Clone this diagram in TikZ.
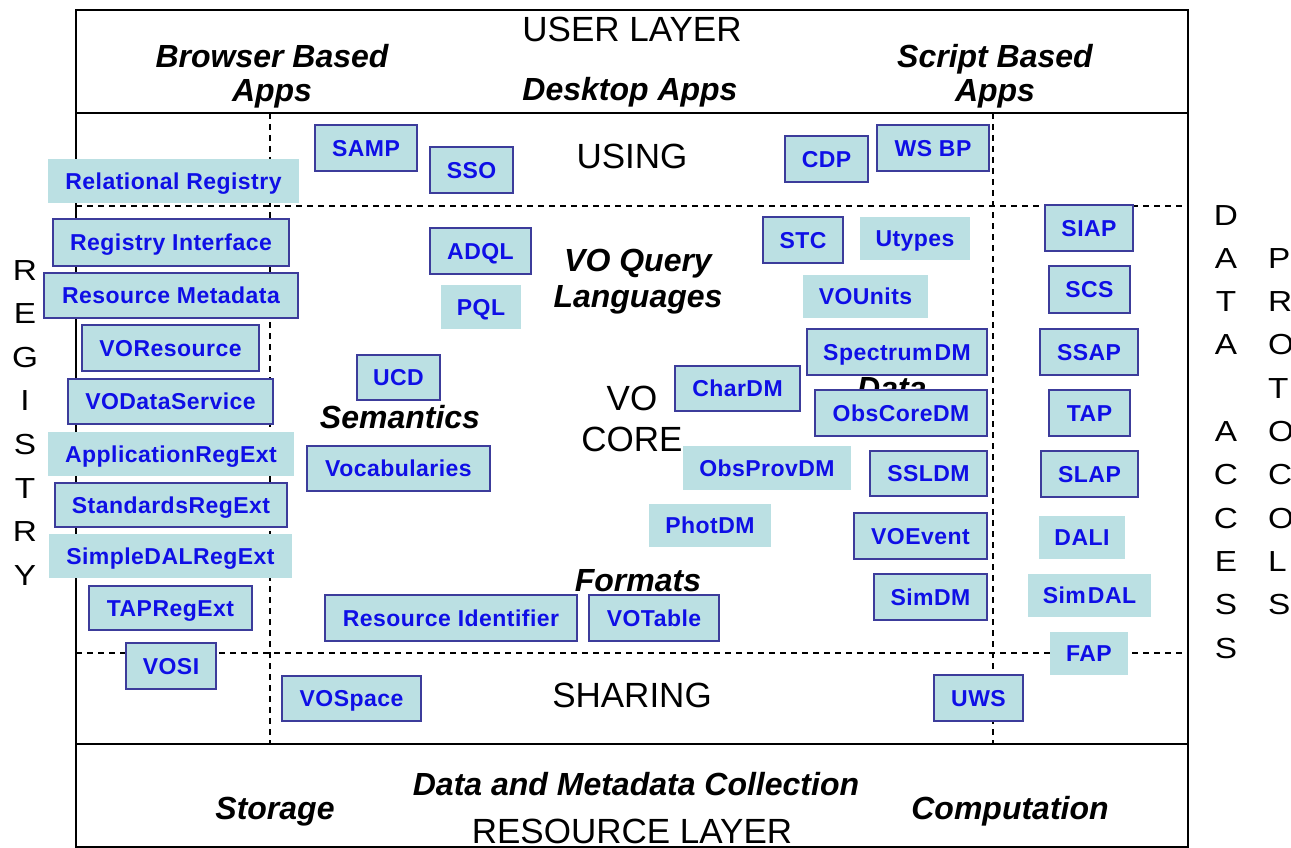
\documentclass[tikz,border=0pt]{standalone}
\usepackage{fontspec}
\setmainfont{Liberation Sans}
\newfontfamily\boxfam[LetterSpace=2]{Liberation Sans}
\definecolor{boxfill}{RGB}{187,224,227}
\definecolor{boxline}{RGB}{60,60,155}
\definecolor{boxtext}{RGB}{15,15,230}
\tikzset{
  vob/.style={fill=boxfill, text=boxtext, font=\boxfam\fontsize{23}{26}\selectfont\bfseries, inner sep=0pt, text height=18pt, text depth=1.5pt},
  vobb/.style={vob, draw=boxline, line width=2pt},
  frameline/.style={line width=2pt, black},
  dashline/.style={line width=1.8pt, black, dash pattern=on 6pt off 5pt},
  titletext/.style={font=\fontsize{32}{34}\selectfont\bfseries\itshape, anchor=base},
  layertext/.style={font=\fontsize{35}{40}\selectfont, anchor=base},
  sideletter/.style={font=\fontsize{29}{32}\selectfont, anchor=base, inner sep=0pt},
}
\newcommand\wideletter[1]{\scalebox{1.15}[1]{#1}}
\begin{document}
\begin{tikzpicture}[x=1pt,y=-1pt]
\useasboundingbox (0,0) rectangle (1291,848);
\clip (0,0) rectangle (1291,848);
% frame
\coordinate (ftl) at (76,10);
\coordinate (fbr) at (1188,847);
\coordinate (ul) at (76,113);
\coordinate (ur) at (1188,113);
\coordinate (rl) at (76,744);
\coordinate (rr) at (1188,744);
\draw[frameline] (ftl) rectangle (fbr);
\draw[frameline] (ul) -- (ur);
\draw[frameline] (rl) -- (rr);
% dashed lines
\coordinate (d1a) at (76,206);
\coordinate (d1b) at (1188,206);
\coordinate (d2a) at (76,653);
\coordinate (d2b) at (1188,653);
\coordinate (v1a) at (270,113);
\coordinate (v1b) at (270,744);
\coordinate (v2a) at (993,113);
\coordinate (v2b) at (993,744);
\draw[dashline] (d1a) -- (d1b);
\draw[dashline] (d2a) -- (d2b);
\draw[dashline] (v1a) -- (v1b);
\draw[dashline] (v2a) -- (v2b);

% layer texts
\node[layertext] (userlayer) at (632,42) {USER LAYER};
\node[layertext] (using) at (632,169) {USING};
\node[layertext] (vo) at (632,410) {VO};
\node[layertext] (core) at (632,451) {CORE};
\node[layertext] (sharing) at (632,707) {SHARING};
\node[layertext] (reslayer) at (632,843) {RESOURCE LAYER};

% titles
\node[titletext] (bba1) at (272,68) {Browser Based};
\node[titletext] (bba2) at (272,102) {Apps};
\node[titletext] (desk) at (630,101) {Desktop Apps};
\node[titletext] (sba1) at (995,68) {Script Based};
\node[titletext] (sba2) at (995,102) {Apps};
\node[titletext] (voq1) at (638,271) {VO Query};
\node[titletext] (voq2) at (638,307) {Languages};
\node[titletext] (sem) at (400,428) {Semantics};
\node[titletext] (fmt) at (638,591) {Formats};
\node[titletext, anchor=base west, inner sep=0pt] (data) at (857,399) {Data};
\node[titletext] (dmc) at (636,795) {Data and Metadata Collection};
\node[titletext] (stor) at (275,819) {Storage};
\node[titletext] (comp) at (1010,819) {Computation};

% side letters
\foreach \l [count=\i from 0] in {R,E,G,I,S,T,R,Y}
  \node[sideletter] (reg\i) at (25,{280+43.6*\i}) {\wideletter{\l}};
\foreach \l/\k in {D/0,A/1,T/2,A/3,A/5,C/6,C/7,E/8,S/9,S/10}
  \node[sideletter] (da\k) at (1226,{225+43.3*\k}) {\wideletter{\l}};
\foreach \l/\k in {P/1,R/2,O/3,T/4,O/5,C/6,O/7,L/8,S/9}
  \node[sideletter, anchor=base west] (pr\k) at (1268,{225+43.3*\k}) {\wideletter{\l}};

% registry column
\node[vob,  minimum width=251, minimum height=44] (relreg) at (173.5,181) {Relational Registry};
\node[vobb, minimum width=236, minimum height=47] (regint) at (171,242.5) {Registry Interface};
\node[vobb, minimum width=254, minimum height=45] (resmeta) at (171,295.5) {Resource Metadata};
\node[vobb, minimum width=177, minimum height=46] (vores) at (170.5,348) {VOResource};
\node[vobb, minimum width=205, minimum height=45] (vods) at (170.5,401.5) {VODataService};
\node[vob,  minimum width=246, minimum height=44] (appreg) at (171,454) {ApplicationRegExt};
\node[vobb, minimum width=232, minimum height=44] (stdreg) at (171,505) {StandardsRegExt};
\node[vob,  minimum width=243, minimum height=44] (sdalreg) at (170.5,556) {SimpleDALRegExt};
\node[vobb, minimum width=163, minimum height=44] (tapreg) at (170.5,608) {TAPRegExt};
\node[vobb, minimum width=90,  minimum height=46] (vosi) at (171,666) {VOSI};
\node[vobb, minimum width=139, minimum height=45] (vospace) at (351.5,698.5) {VOSpace};

% using
\node[vobb, minimum width=102, minimum height=46] (samp) at (366,148) {SAMP};
\node[vobb, minimum width=83,  minimum height=46] (sso) at (471.5,170) {SSO};
\node[vobb, minimum width=83,  minimum height=46] (cdp) at (826.5,159) {CDP};
\node[vobb, minimum width=112, minimum height=46] (wsbp) at (933,148) {WS BP};

% core
\node[vobb, minimum width=101, minimum height=46] (adql) at (480.5,251) {ADQL};
\node[vob,  minimum width=80,  minimum height=44] (pql) at (481,307) {PQL};
\node[vobb, minimum width=80,  minimum height=46] (stc) at (803,240) {STC};
\node[vob,  minimum width=110, minimum height=43] (utypes) at (915,238.5) {Utypes};
\node[vob,  minimum width=125, minimum height=43] (vounits) at (865.5,296.5) {VOUnits};
\node[vobb, minimum width=180, minimum height=46] (specdm) at (897,352) {Spectrum\kern2pt DM};
\node[vobb, minimum width=172, minimum height=46] (obscore) at (901,413) {ObsCoreDM};
\node[vobb, minimum width=125, minimum height=45] (chardm) at (737.5,388.5) {CharDM};
\node[vob,  minimum width=168, minimum height=44] (obsprov) at (767,468) {ObsProvDM};
\node[vob,  minimum width=122, minimum height=43] (photdm) at (710,525.5) {PhotDM};
\node[vobb, minimum width=117, minimum height=45] (ssldm) at (928.5,473.5) {SSLDM};
\node[vobb, minimum width=133, minimum height=46] (voevent) at (920.5,536) {VOEvent};
\node[vobb, minimum width=113, minimum height=46] (simdm) at (930.5,597) {SimDM};
\node[vobb, minimum width=83,  minimum height=45] (ucd) at (398.5,377.5) {UCD};
\node[vobb, minimum width=183, minimum height=45] (vocab) at (398.5,468.5) {Vocabularies};
\node[vobb, minimum width=252, minimum height=46] (resid) at (451,618) {Resource Identifier};
\node[vobb, minimum width=130, minimum height=46] (votable) at (654,618) {VOTable};

% data access
\node[vobb, minimum width=88, minimum height=46] (siap) at (1089,228) {SIAP};
\node[vobb, minimum width=81, minimum height=47] (scs) at (1089.5,289.5) {SCS};
\node[vobb, minimum width=98, minimum height=46] (ssap) at (1089,352) {SSAP};
\node[vobb, minimum width=81, minimum height=46] (tap) at (1089.5,413) {TAP};
\node[vobb, minimum width=97, minimum height=46] (slap) at (1089.5,474) {SLAP};
\node[vob,  minimum width=86, minimum height=43] (dali) at (1082,537.5) {DALI};
\node[vob,  minimum width=123, minimum height=43] (simdal) at (1089.5,595.5) {Sim\kern2pt DAL};
\node[vob,  minimum width=78, minimum height=43] (fap) at (1089,653.5) {FAP};
\node[vobb, minimum width=89, minimum height=46] (uws) at (978.5,698) {UWS};
\end{tikzpicture}
\end{document}
